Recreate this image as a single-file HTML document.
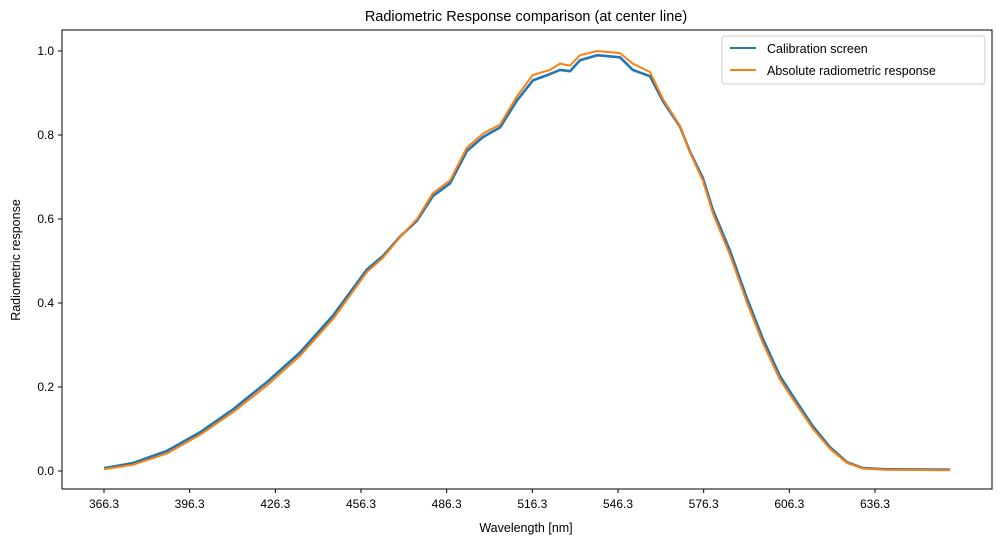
<!DOCTYPE html>
<html><head><meta charset="utf-8"><style>
body{margin:0;background:#fff;font-family:"Liberation Sans",sans-serif;}
svg text{font-family:"Liberation Sans",sans-serif;fill:#000;}
</style></head><body>
<svg id="chart" width="1001" height="545">
<rect width="1001" height="545" fill="#fff"/>
<text x="526" y="21" font-size="14.5" text-anchor="middle">Radiometric Response comparison (at center line)</text>
<g id="plot"></g>
<rect x="62" y="30" width="930" height="459" fill="none" stroke="#000" stroke-width="1"/>
<text x="526" y="532" font-size="12.5" text-anchor="middle">Wavelength [nm]</text>
<text x="20" y="260" font-size="12.5" text-anchor="middle" transform="rotate(-90 20 260)">Radiometric response</text>
<g>
<rect x="722" y="36" width="263" height="48" rx="3" fill="#fff" stroke="#ccc"/>
<line x1="730" y1="48" x2="756" y2="48" stroke="#1f77b4" stroke-width="2"/>
<text x="767" y="53" font-size="12.5">Calibration screen</text>
<line x1="730" y1="70" x2="756" y2="70" stroke="#ff7f0e" stroke-width="2"/>
<text x="767" y="75" font-size="12.5">Absolute radiometric response</text>
</g>
</svg>
<script>
const wavelengths=[366.3,376.5,388.4,399.9,411.5,423.4,434.9,446.5,458.4,464.0,470.0,475.9,481.5,487.5,493.4,499.0,505.0,510.9,516.5,522.5,526.0,529.5,533.0,539.0,547.0,551.5,557.5,562.1,568.0,571.5,576.0,579.5,585.5,591.4,597.0,603.0,608.9,614.6,620.5,626.5,632.1,640.0,662.6];
const absoluteResp=[0.004,0.015,0.042,0.086,0.140,0.204,0.274,0.362,0.474,0.508,0.557,0.600,0.662,0.692,0.770,0.803,0.825,0.892,0.943,0.955,0.970,0.965,0.990,1.000,0.995,0.970,0.950,0.885,0.822,0.758,0.692,0.614,0.515,0.402,0.305,0.218,0.157,0.100,0.053,0.019,0.006,0.003,0.002];
const calibResp=[0.007,0.019,0.048,0.092,0.147,0.212,0.282,0.370,0.480,0.512,0.558,0.596,0.655,0.685,0.762,0.795,0.818,0.882,0.930,0.945,0.955,0.952,0.978,0.990,0.985,0.955,0.940,0.880,0.820,0.760,0.698,0.622,0.525,0.412,0.315,0.226,0.164,0.106,0.057,0.021,0.007,0.004,0.003];
const xTicks=[366.3,396.3,426.3,456.3,486.3,516.3,546.3,576.3,606.3,636.3];
const yTicks=[0,0.2,0.4,0.6,0.8,1.0];
const ns="http://www.w3.org/2000/svg";
const g=document.getElementById('plot');
const xs=w=>104+(w-366.3)*(771/270);
const ys=v=>471-v*420;
function el(t,a){const e=document.createElementNS(ns,t);for(const k in a)e.setAttribute(k,a[k]);g.appendChild(e);return e;}
xTicks.forEach(t=>{
 const l=el('line',{x1:xs(t),x2:xs(t),y1:489,y2:493,stroke:'#000'});
 
 
 const tx=el('text',{x:xs(t),y:508,'font-size':12,'text-anchor':'middle'});tx.textContent=t.toFixed(1);
 
 
});
yTicks.forEach(t=>{
 const l=el('line',{x1:58,x2:62,y1:ys(t),y2:ys(t),stroke:'#000'});
 
 
 const tx=el('text',{x:54,y:ys(t)+4,'font-size':12,'text-anchor':'end'});tx.textContent=t.toFixed(1);
 
 
});
function line(vals,color,name,w){
 const d=wavelengths.map((x,i)=>(i?'L':'M')+xs(x).toFixed(1)+','+ys(vals[i]).toFixed(1)).join('');
 const p=el('path',{d:d,fill:'none',stroke:color,'stroke-width':w,'stroke-linejoin':'round'});
 
 
}
line(calibResp,'#1f77b4','calibration-screen-line',2.6);
line(absoluteResp,'#ff7f0e','absolute-response-line',2);
</script>
</body></html>
